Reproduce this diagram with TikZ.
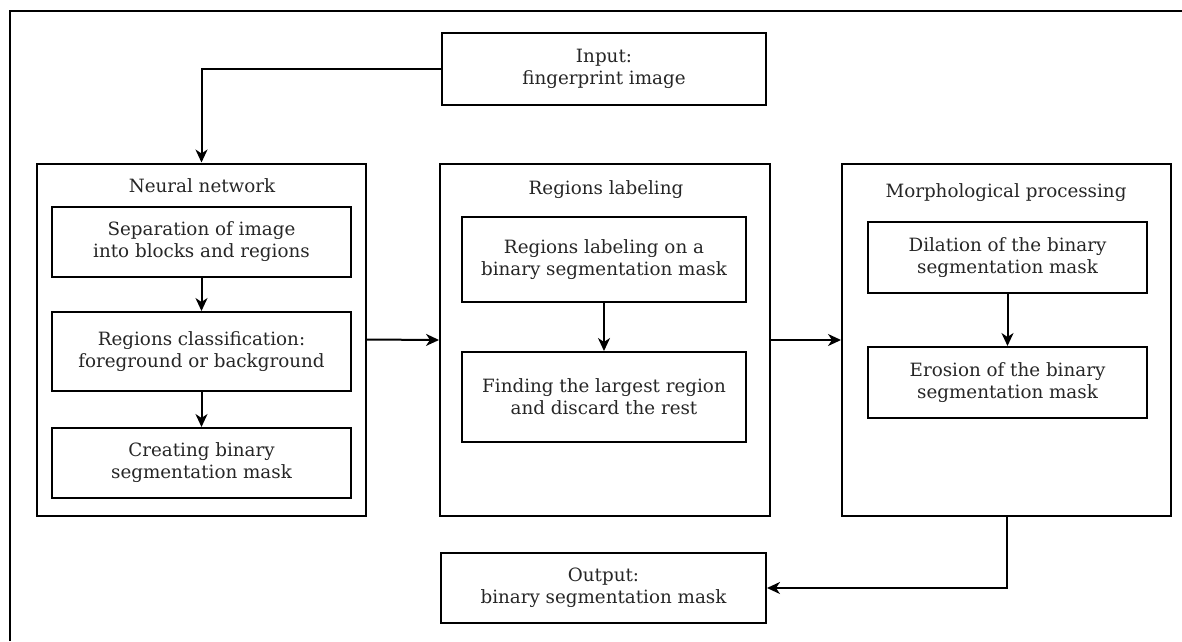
\documentclass[tikz,border=0pt]{standalone}
\usepackage{fontspec}
\setmainfont{DejaVu Serif}
\usepackage{tikz}
\usetikzlibrary{shapes,arrows.meta,positioning}
\tikzstyle{block} = [rectangle,draw,line width=2pt,text centered,align=center,
  inner sep=0pt,text=black!85]
\tikzstyle{group} = [rectangle,draw,line width=2pt,inner sep=0pt,minimum width=329,
  minimum height=352]
\tikzstyle{title} = [text=black!85]
\tikzstyle{line} = [line width=2pt,-{Stealth[length=13pt,width=12pt,inset=4pt]}]

\begin{document}
\begin{tikzpicture}[x=1pt,y=-1pt,font=\fontsize{18.3}{22}\selectfont]
\useasboundingbox (0,0) rectangle (1182,641);
\draw[line width=2pt] (10,641) -- (10,11) -- (1182,11);

\node [block,minimum width=324,minimum height=72] (in) at (604,69) {Input:\\fingerprint image};

% neural network
\node [group] (nn) at (201.5,339.5) {};
\node [title] (nntitle) at (202,186) {Neural network};
\node [block,minimum width=299,minimum height=70] (sep) at (201.5,242)
  {Separation of image\\into blocks and regions};
\node [block,minimum width=299,minimum height=79] (cls) at (201.5,351.5)
  {Regions classification:\\foreground or background};
\node [block,minimum width=299,minimum height=70] (mask) at (201.5,463)
  {Creating binary\\segmentation mask};

% regions labeling
\node [group,minimum width=330] (rl) at (605,340) {};
\node [title] (rltitle) at (606,190) {Regions labeling};
\node [block,minimum width=284,minimum height=85] (lab) at (604,259.5)
  {Regions labeling on a\\binary segmentation mask};
\node [block,minimum width=284,minimum height=90] (big) at (604,397)
  {Finding the largest region\\and discard the rest};

% morphological processing
\node [group] (mp) at (1006.5,340) {};
\node [title] (mptitle) at (1006,193) {Morphological processing};
\node [block,minimum width=279,minimum height=71] (dil) at (1007.5,257.5)
  {Dilation of the binary\\segmentation mask};
\node [block,minimum width=279,minimum height=71] (ero) at (1007.5,382.5)
  {Erosion of the binary\\segmentation mask};

\node [block,minimum width=325,minimum height=70] (out) at (603.5,588)
  {Output:\\binary segmentation mask};

\draw [line] (in.west) -| (nn.north);
\draw [line] (sep) -- (cls);
\draw [line] (cls) -- (mask);
\draw [line] (lab) -- (big);
\draw [line] (dil) -- (ero);
\draw [line] (nn.east) -- (rl.west);
\draw [line] (rl.east) -- (mp.west);
\draw [line] (mp.south) |- (out.east);
\end{tikzpicture}
\end{document}
